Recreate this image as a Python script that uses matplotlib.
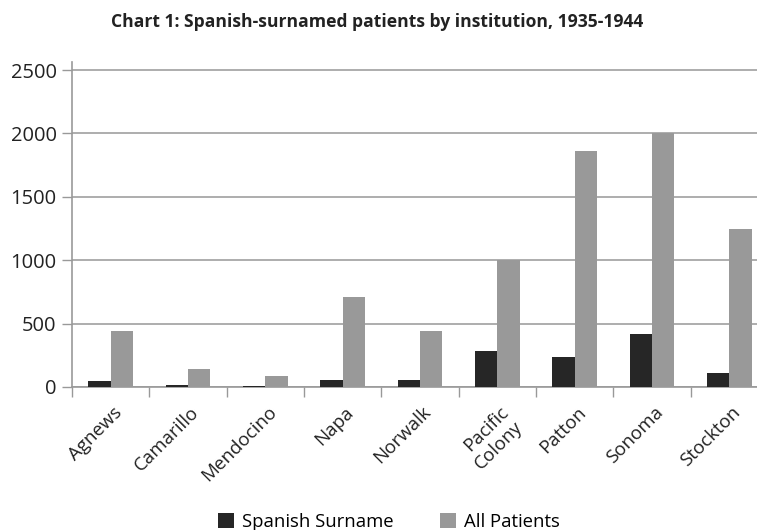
import matplotlib
matplotlib.use("Agg")
import matplotlib.pyplot as plt
import matplotlib.transforms as mtransforms
import numpy as np

plt.rcParams['font.family'] = ['Open Sans', 'DejaVu Sans']

# data
institutions = ["Agnews", "Camarillo", "Mendocino", "Napa", "Norwalk",
                "Pacific\nColony", "Patton", "Sonoma", "Stockton"]
spanish_surname = [50, 12, 10, 55, 55, 280, 240, 420, 110]
all_patients = [445, 145, 85, 710, 440, 1000, 1860, 2000, 1245]

fig = plt.figure(figsize=(7.57, 5.30), dpi=100)
ax = fig.add_axes([72/757, 1-387/530, 696/757, 324.6/530])

x = np.arange(len(institutions))
w = 0.29
ax.bar(x - w/2, spanish_surname, w, color='#262626', label='Spanish Surname', zorder=3)
ax.bar(x + w/2, all_patients, w, color='#999999', label='All Patients', zorder=3)

ax.set_xlim(-0.5, len(institutions) - 0.5)
ax.set_ylim(0, 2560)
ax.set_yticks([0, 500, 1000, 1500, 2000, 2500])
ax.yaxis.grid(True, color='#a0a0a0', linewidth=1.2, zorder=0)

# ticks at category boundaries, labels at centres
ax.set_xticks(np.arange(-0.5, len(institutions), 1))
ax.set_xticklabels([])
ax.set_xticks(x, minor=True)
ax.set_xticklabels(institutions, minor=True, rotation=45, ha='right',
                   rotation_mode='anchor', fontsize=13.5, color='#222222')
ax.tick_params(axis='x', which='minor', length=0, pad=8)
ax.tick_params(axis='x', which='major', length=7, color='#999999', width=1)
ax.tick_params(axis='y', length=7, color='#999999', width=1, labelsize=14.5,
               labelcolor='#222222', pad=4)

# nudge rotated labels down a little like the original
shift = mtransforms.ScaledTranslation(2/100, -5/100, fig.dpi_scale_trans)
for lab in ax.get_xticklabels(minor=True):
    lab.set_transform(lab.get_transform() + shift)

for s in ['top', 'right']:
    ax.spines[s].set_visible(False)
for s in ['left', 'bottom']:
    ax.spines[s].set_color('#999999')
    ax.spines[s].set_linewidth(1.2)

fig.text(377/757, 1-22/530, "Chart 1: Spanish-surnamed patients by institution, 1935-1944",
         ha='center', va='center', fontsize=12.6, fontweight='bold', color='#222222')

fig.legend(loc='center', bbox_to_anchor=(389/757, 1-522/530), ncol=2, frameon=False,
           fontsize=13.3, handlelength=0.85, handleheight=0.85, handletextpad=0.45,
           columnspacing=2.5, borderpad=0, borderaxespad=0)

fig.savefig('out.png', dpi=100)
